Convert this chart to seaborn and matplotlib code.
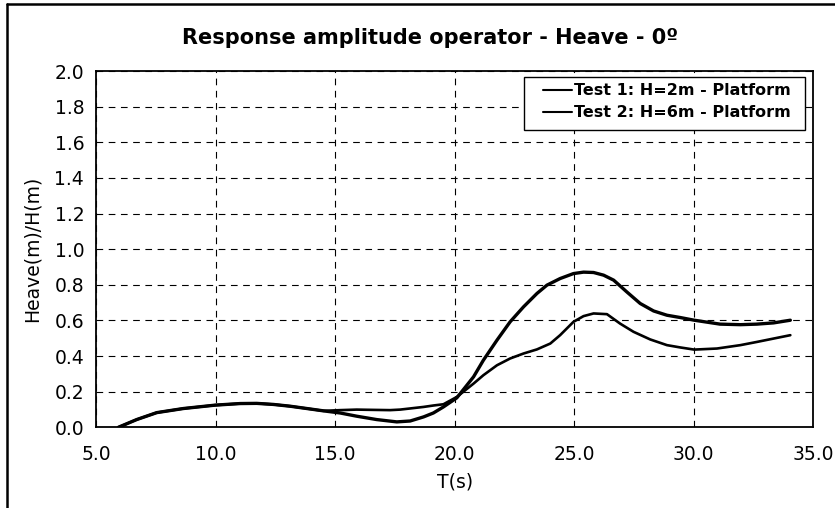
import seaborn as sns
import matplotlib.pyplot as plt
import pandas as pd
from matplotlib.lines import Line2D
from matplotlib.patches import Rectangle

# Test 1 (higher peak) and Test 2
t1_T = [5.94, 6.70, 7.54, 8.65, 9.98, 11.03, 11.72, 12.42, 13.12, 13.82, 14.51, 15.21,
        15.9, 16.74, 17.58, 18.14, 18.7, 19.11, 19.53, 20.09, 20.79, 21.2, 21.77, 22.32,
        22.88, 23.44, 23.86, 24.41, 24.97, 25.39, 25.81, 26.23, 26.65, 27.2, 27.76, 28.32,
        28.88, 29.44, 30.02, 31.1, 31.95, 32.64, 33.34, 34.04]
t1_H = [0.0, 0.043, 0.082, 0.105, 0.124, 0.133, 0.134, 0.128, 0.118, 0.105, 0.092, 0.080,
        0.062, 0.043, 0.030, 0.035, 0.058, 0.080, 0.114, 0.165, 0.283, 0.376, 0.489, 0.592,
        0.676, 0.751, 0.798, 0.835, 0.863, 0.871, 0.869, 0.854, 0.826, 0.760, 0.695, 0.653,
        0.629, 0.616, 0.601, 0.579, 0.576, 0.579, 0.586, 0.601]

t2_T = [5.94, 6.70, 7.54, 8.65, 9.98, 11.03, 11.72, 12.42, 13.12, 13.82, 14.51, 15.21,
        15.9, 16.32, 17.3, 17.72, 18.7, 19.11, 19.53, 20.09, 20.79, 21.2, 21.77, 22.32,
        22.88, 23.44, 24.0, 24.41, 24.97, 25.39, 25.81, 26.37, 26.92, 27.48, 28.18, 28.88,
        29.44, 30.02, 30.97, 31.95, 32.64, 34.04]
t2_H = [0.0, 0.043, 0.082, 0.105, 0.124, 0.133, 0.134, 0.128, 0.118, 0.105, 0.092, 0.096,
        0.099, 0.098, 0.096, 0.099, 0.114, 0.122, 0.129, 0.17, 0.245, 0.292, 0.348, 0.386,
        0.414, 0.437, 0.470, 0.517, 0.592, 0.624, 0.639, 0.635, 0.582, 0.536, 0.493, 0.461,
        0.448, 0.436, 0.442, 0.461, 0.479, 0.517]

labels = ["Test 1: H=2m - Platform", "Test 2: H=6m - Platform"]

df = pd.concat([
    pd.DataFrame({"T": t1_T, "H": t1_H, "series": labels[0]}),
    pd.DataFrame({"T": t2_T, "H": t2_H, "series": labels[1]}),
])

sns.set_style("white")
plt.rcParams["font.family"] = ["DejaVu Sans"]
plt.rcParams["text.color"] = "black"
plt.rcParams["axes.labelcolor"] = "black"

fig = plt.figure(figsize=(8.35, 5.08), dpi=100)
ax = fig.add_axes([0.115, 0.159, 0.859, 0.701])

sns.lineplot(data=df, x="T", y="H", hue="series", size="series",
             palette={labels[0]: "black", labels[1]: "black"},
             sizes={labels[0]: 2.4, labels[1]: 1.9},
             sort=False, ax=ax, legend=False)
for ln in ax.get_lines():
    ln.set_solid_joinstyle("round")
    ln.set_solid_capstyle("round")

ax.set_xlim(5, 35)
ax.set_ylim(0, 2.0)
ax.set_xticks([5, 10, 15, 20, 25, 30, 35])
ax.set_yticks([i * 0.2 for i in range(11)])
ax.xaxis.set_major_formatter(plt.FormatStrFormatter("%.1f"))
ax.yaxis.set_major_formatter(plt.FormatStrFormatter("%.1f"))
ax.tick_params(direction="out", length=5, width=1, colors="black", labelsize=13.5)
ax.tick_params(axis="x", pad=8)
ax.grid(True, color="black", linestyle=(0, (6, 5)), linewidth=0.8)
for s in ax.spines.values():
    s.set_color("black")
    s.set_linewidth(1.3)

ax.set_xlabel("T(s)", fontsize=13.5, labelpad=6)
ax.set_ylabel("Heave(m)/H(m)", fontsize=13.5, labelpad=9.5)
fig.text(430 / 835, 1 - 38 / 508, "Response amplitude operator - Heave - 0º",
         fontsize=15, fontweight="bold", ha="center", va="center", color="black")

# legend: box drawn separately so its padding matches the original
ax.add_patch(Rectangle((0.597, 0.834), 0.3918, 0.149, transform=ax.transAxes,
                       facecolor="white", edgecolor="black", lw=1.0, zorder=4))
handles = [Line2D([], [], color="black", lw=1.5) for _ in labels]
leg = ax.legend(handles, labels, loc="upper left", bbox_to_anchor=(0.6234, 0.966),
                prop={"weight": "bold", "size": 11.5}, frameon=False,
                handlelength=1.8, handletextpad=0.1, borderpad=0.0,
                labelspacing=0.45, borderaxespad=0.0)
leg.set_zorder(5)

# outer frame (only top and left edges are visible in the crop)
fig.add_artist(Line2D([7 / 835, 1.0], [1 - 4 / 508, 1 - 4 / 508], color="black", lw=1.8))
fig.add_artist(Line2D([7 / 835, 7 / 835], [0.0, 1 - 4 / 508], color="black", lw=1.8))

fig.savefig("out.png", dpi=100)
